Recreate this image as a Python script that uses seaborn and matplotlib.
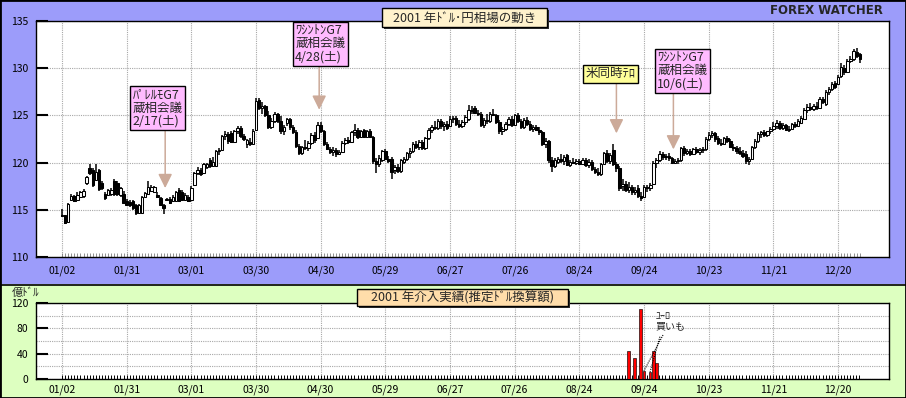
import numpy as np
import pandas as pd
import matplotlib
matplotlib.use("Agg")
import matplotlib.pyplot as plt
import seaborn as sns
from matplotlib.patches import Rectangle
from matplotlib.lines import Line2D

sns.set_style("white")
plt.rcParams["font.family"] = ["Noto Sans CJK JP", "DejaVu Sans"]

# ---------------- data (USD/JPY daily, 2001) ----------------
open_ = [114.5,114.4,113.7,116.0,116.5,116.0,116.4,116.5,117.8,119.4,
         119.2,118.2,119.2,117.8,116.7,116.6,116.7,118.0,117.8,116.6,
         116.7,115.9,115.8,115.9,115.5,114.7,114.7,116.4,116.7,117.0,
         116.9,116.6,116.2,115.5,116.1,116.1,115.9,115.9,117.1,116.9,
         116.0,116.4,116.0,117.6,118.9,119.2,118.9,119.5,120.3,119.6,
         119.6,121.2,121.3,122.8,123.0,123.1,122.2,123.3,123.7,122.8,
         122.0,122.2,122.0,123.5,126.6,125.8,126.0,125.0,123.8,124.4,
         125.2,124.4,123.3,124.2,124.6,123.8,123.2,121.8,121.0,121.6,
         121.5,122.1,122.9,122.6,124.0,123.4,122.0,121.4,121.1,121.3,
         120.9,121.1,122.1,122.4,122.2,123.2,123.5,122.7,123.5,122.7,
         123.4,122.7,120.2,119.9,120.3,121.2,120.4,120.4,119.2,119.5,
         119.1,120.1,120.4,121.0,121.2,122.0,121.6,122.2,121.5,122.6,
         123.5,123.8,123.7,124.4,123.9,124.1,123.9,124.6,124.7,124.1,
         123.9,124.3,124.6,125.6,125.8,125.3,125.2,124.0,124.5,124.4,
         125.2,125.0,124.3,123.3,123.6,124.1,124.6,124.0,125.0,124.4,
         123.8,124.5,124.1,123.6,123.8,123.5,123.2,122.0,122.3,120.3,
         119.6,120.1,120.4,120.2,120.8,119.7,120.1,120.0,120.2,119.9,
         120.3,119.7,120.1,119.3,119.0,118.8,119.9,121.0,120.2,121.3,
         119.8,119.4,117.5,117.7,117.1,117.4,116.9,117.3,116.5,116.4,
         117.4,117.3,117.7,120.0,120.3,120.9,120.6,120.7,120.5,120.0,
         120.2,120.3,121.5,121.0,121.2,120.9,121.4,121.1,121.3,121.4,
         122.5,122.9,123.1,122.6,122.1,122.0,122.6,122.3,121.7,121.5,
         121.2,121.0,120.9,120.2,120.4,121.6,122.3,123.0,123.2,122.9,
         123.3,123.6,123.9,124.2,123.7,124.0,123.5,123.6,124.1,123.9,
         124.2,124.6,125.6,125.9,125.7,126.0,125.8,126.7,126.2,127.5,
         127.8,128.4,128.3,129.2,130.0,129.6,130.8,131.0,131.7,131.5]
high = [115.1,114.5,115.7,116.7,116.6,116.9,117.0,117.2,118.6,119.9,
        119.4,119.8,119.3,118.0,116.9,117.2,117.3,118.3,118.1,117.4,
        117.0,116.1,116.0,116.0,115.6,115.6,116.5,116.9,118.0,117.6,
        117.5,116.9,116.4,115.6,116.3,116.4,116.6,117.0,117.3,117.1,
        116.8,116.6,117.5,119.0,119.5,119.4,120.0,120.0,120.5,120.6,
        121.3,121.5,122.9,123.3,123.2,123.3,123.5,123.9,123.9,123.0,
        122.5,122.6,123.6,126.8,126.8,126.4,126.1,125.5,124.7,125.4,
        125.3,124.9,124.0,124.7,124.7,124.0,123.5,122.0,121.8,122.4,
        122.3,123.1,123.2,124.3,124.3,123.5,122.2,121.6,121.6,121.5,
        121.3,122.3,122.6,122.7,123.4,124.1,123.7,123.5,123.6,123.5,
        123.6,122.8,120.5,120.8,121.3,121.4,120.7,120.6,119.7,119.8,
        120.4,120.6,121.1,121.5,122.2,122.3,122.4,122.4,122.7,123.7,
        124.0,124.4,124.6,124.6,124.3,124.4,124.9,124.9,124.9,124.5,
        124.5,125.0,126.1,126.0,126.0,125.6,125.4,124.7,125.2,125.4,
        125.7,125.2,124.5,123.8,124.3,124.8,124.9,125.2,125.3,124.6,
        124.7,124.8,124.4,124.0,124.0,123.8,123.4,122.6,122.4,120.6,
        120.5,120.6,120.9,120.8,120.9,120.3,120.5,120.4,120.4,120.5,
        120.5,120.4,120.3,119.5,119.4,120.0,121.1,121.3,121.0,122.0,
        120.1,119.6,118.3,118.0,117.9,117.6,117.4,117.6,116.9,117.6,
        117.6,117.8,120.2,120.5,121.2,121.1,120.9,121.0,120.6,120.4,
        120.5,121.6,121.8,121.4,121.4,121.5,121.6,121.5,121.6,122.7,
        123.2,123.4,123.2,122.8,122.5,122.7,122.8,122.5,122.0,121.8,
        121.6,121.3,121.2,120.6,121.8,122.5,123.2,123.4,123.5,123.4,
        123.8,124.3,124.5,124.4,124.2,124.1,123.9,124.2,124.3,124.6,
        124.9,125.8,126.2,126.3,126.2,126.4,126.9,127.0,127.7,128.0,
        128.5,128.6,129.3,130.5,130.3,131.0,131.3,132.0,132.1,131.6]
low = [114.2,113.5,113.6,115.9,115.8,115.9,116.3,116.3,117.6,118.7,
       117.4,118.0,117.0,117.1,116.0,116.5,116.5,116.5,116.5,116.4,
       115.6,115.4,115.3,115.0,114.5,114.6,114.6,116.3,116.6,116.9,
       116.8,116.2,115.4,114.6,115.9,115.6,115.8,115.8,115.8,115.9,
       115.9,115.8,115.9,117.5,118.7,118.6,118.8,119.3,119.4,119.5,
       119.5,120.8,121.2,122.4,122.0,122.1,122.1,123.0,122.6,122.3,
       121.5,121.8,121.9,123.3,125.6,125.2,124.8,123.6,123.6,124.2,
       124.2,123.0,122.9,123.9,123.5,123.0,121.5,120.8,120.8,121.3,
       121.2,121.9,122.1,122.5,123.1,121.8,121.3,120.9,120.7,120.6,
       120.8,121.0,121.9,122.0,122.1,122.8,122.5,122.6,122.6,122.6,
       122.6,119.9,118.9,119.5,120.1,120.3,120.0,118.3,118.8,118.9,
       118.9,119.9,120.2,120.5,121.0,121.4,121.3,121.3,121.3,122.4,
       123.1,123.5,123.5,123.6,123.4,123.5,123.8,124.2,123.9,123.7,
       123.7,124.0,124.4,125.2,125.1,124.9,123.8,123.7,124.1,124.2,
       124.9,124.1,123.0,122.9,123.3,123.9,123.8,123.9,124.2,123.6,
       123.6,123.9,123.4,123.2,123.3,122.9,121.8,121.5,120.0,119.0,
       119.4,119.8,120.0,119.7,119.6,119.5,119.8,119.7,119.8,119.8,
       119.5,119.4,119.1,118.8,118.6,118.6,119.8,120.0,119.9,119.6,
       119.0,117.0,117.0,116.9,116.8,116.6,116.6,116.2,115.9,116.2,
       116.9,117.0,117.6,119.4,120.1,120.3,120.3,120.2,119.8,119.8,
       119.9,120.1,120.7,120.8,120.7,120.8,120.9,120.8,121.0,121.2,
       122.3,122.6,122.2,121.9,121.8,121.9,122.1,121.5,121.2,120.9,
       120.8,120.5,119.9,119.7,120.3,121.4,122.1,122.6,122.7,122.7,
       123.0,123.3,123.6,123.5,123.5,123.3,123.2,123.5,123.7,123.8,
       124.1,124.5,125.3,125.5,125.5,125.6,125.7,126.2,126.0,127.2,
       127.6,127.8,128.2,129.0,129.3,129.5,130.5,130.8,131.1,130.6]
close = [114.3,113.6,115.6,116.5,115.9,116.6,116.9,117.0,118.5,118.9,
         117.6,119.0,117.2,117.3,116.2,117.1,117.1,116.7,116.7,117.3,
         115.7,115.5,115.5,115.2,114.7,115.5,116.4,116.8,117.4,117.4,
         117.4,116.4,115.5,115.2,116.0,115.7,116.4,116.9,115.9,116.0,
         116.6,115.9,117.3,118.9,119.2,118.8,119.9,119.8,119.6,120.1,
         121.2,121.3,122.8,123.0,122.3,122.2,123.3,123.7,122.8,122.5,
         122.4,122.0,123.4,126.5,125.8,126.0,125.0,123.8,124.4,125.2,
         124.4,123.3,123.8,124.6,123.8,123.2,121.8,121.0,121.6,121.5,
         122.1,122.9,122.4,124.0,123.4,122.0,121.4,121.1,121.3,120.9,
         121.1,122.1,122.4,122.2,123.2,123.5,122.7,123.3,122.7,123.4,
         122.7,120.2,119.9,120.5,121.2,120.4,120.2,119.0,119.5,119.1,
         120.3,120.4,121.0,121.2,122.0,121.6,122.2,121.5,122.6,123.5,
         123.8,123.7,124.4,123.9,124.1,123.7,124.6,124.7,124.1,123.9,
         124.3,124.8,125.6,125.5,125.3,125.2,124.0,124.5,124.4,125.2,
         125.0,124.3,123.3,123.6,124.1,124.6,124.0,125.0,124.4,123.8,
         124.5,124.1,123.6,123.8,123.5,123.2,122.0,122.3,120.3,119.6,
         120.3,120.4,120.2,120.6,119.7,120.1,120.0,120.2,119.9,120.3,
         119.7,120.1,119.3,119.0,118.8,119.9,121.0,120.2,120.8,119.8,
         119.4,117.3,117.7,117.1,117.4,116.9,117.1,116.5,116.2,117.4,
         117.3,117.6,120.0,120.3,120.9,120.6,120.7,120.5,120.0,120.2,
         120.3,121.5,121.0,121.2,120.9,121.4,121.1,121.3,121.4,122.5,
         122.9,123.1,122.5,122.1,122.0,122.6,122.3,121.7,121.5,121.2,
         121.0,120.7,120.2,120.4,121.6,122.3,123.0,123.2,122.9,123.3,
         123.6,123.9,124.2,123.7,124.0,123.5,123.6,124.1,123.9,124.4,
         124.7,125.6,125.9,125.7,126.0,125.8,126.7,126.4,127.5,127.8,
         128.3,128.0,129.1,130.1,129.6,130.8,131.0,131.8,131.3,131.0]
tick_labels = ["01/02", "01/31", "03/01", "03/30", "04/30", "05/29", "06/27",
               "07/26", "08/24", "09/24", "10/23", "11/21", "12/20"]
interv_dates = ["2001-09-17", "2001-09-19", "2001-09-21", "2001-09-24",
                "2001-09-26", "2001-09-27", "2001-09-28"]
interv_amount = [44, 33, 111, 12, 10, 44, 25]   # 億ドル

dates = pd.bdate_range("2001-01-02", "2001-12-31")
N = len(close)
dates = dates[:N]
xpos = np.arange(N)

def date_pos(d):
    d = pd.Timestamp(d)
    k = int(dates.searchsorted(d))
    return float(k) if (k < N and dates[k] == d) else k - 0.5

# ---------------- figure layout ----------------
W, H = 906, 398
fig = plt.figure(figsize=(W / 100, H / 100), dpi=100)
fig.patch.set_facecolor("#9999FF")
fx = lambda px: px / W
fy = lambda py: 1 - py / H

fig.patches.append(Rectangle((0, fy(284)), 1, 284 / H, transform=fig.transFigure,
                             fc="#9C9CFA", ec="none", zorder=-10))
fig.patches.append(Rectangle((0, 0), 1, fy(284), transform=fig.transFigure,
                             fc="#DDFFC0", ec="none", zorder=-10))

ax = fig.add_axes([fx(36), fy(257), fx(889) - fx(36), fy(21) - fy(257)])
ax2 = fig.add_axes([fx(36), fy(378.7), fx(888.7) - fx(36), fy(303.3) - fy(378.7)])

grid_kw = dict(color="#A8A8A8", linestyle=(0, (1, 1)), linewidth=0.8)
tick_pos = np.arange(0, N, 21)[:len(tick_labels)]

for a in (ax, ax2):
    a.set_facecolor("white")
    a.set_xlim(-8.44, 268.5)
    for s in a.spines.values():
        s.set_color("black")
        s.set_linewidth(1.0)
    a.set_axisbelow(True)

# ---------------- candlesticks ----------------
o = np.array(open_); c = np.array(close)
up = c >= o
ax.vlines(xpos, low, high, color="black", linewidth=1.1, zorder=2)
body_bottom = np.minimum(o, c)
body_h = np.maximum(np.abs(c - o), 0.08)
ax.bar(xpos, body_h, bottom=body_bottom, width=0.8,
       color=np.where(up, "white", "black"), edgecolor="black",
       linewidth=0.75, zorder=3)

ax.set_ylim(110, 135)
ax.set_yticks([110, 115, 120, 125, 130, 135])
ax.set_yticklabels(["110", "115", "120", "125", "130", "135"], fontsize=7.5)
ax.set_xticks(tick_pos)
ax.set_xticklabels(tick_labels, fontsize=7.5)
ax.set_xticks(xpos, minor=True)
ax.tick_params(axis="y", direction="in", length=8.6, width=1.5, pad=5.5,
               left=True, colors="black")
ax.tick_params(axis="x", which="both", direction="in", length=3, width=0.6,
               color="#808080", labelcolor="black", pad=6, bottom=True)
ax.grid(True, axis="both", which="major", **grid_kw)

# annotations
arrow_col = "#CCAA99"
notes = [
    ("ﾊﾟﾚﾙﾓG7\n蔵相会議\n2/17(土)", "2001-02-17", "#FFBBFF", (22.9, 127.85), 123.6, 117.3),
    ("ﾜｼﾝﾄﾝG7\n蔵相会議\n4/28(土)", "2001-04-28", "#FFBBFF", (75.7, 134.65), 130.3, 125.6),
    ("米同時ﾃﾛ", "2001-09-11", "#FFFF99", (169.9, 130.1), 128.5, 123.1),
    ("ﾜｼﾝﾄﾝG7\n蔵相会議\n10/6(土)", "2001-10-06", "#FFBBFF", (193.3, 131.8), 127.5, 121.4),
]
for text, d, fc, (tx, ty), base, tip in notes:
    xp = date_pos(d)
    ax.annotate("", xy=(xp, tip), xytext=(xp, base),
                arrowprops=dict(arrowstyle="-|>,head_length=0.85,head_width=0.42",
                                color=arrow_col, lw=1.1, shrinkA=0, shrinkB=0,
                                mutation_scale=10), zorder=4)
    ax.text(tx, ty, text, ha="left", va="top", fontsize=9, linespacing=1.0,
            bbox=dict(boxstyle="square,pad=0.2", fc=fc, ec="black", lw=1.0),
            zorder=5)

# ---------------- intervention bars ----------------
idf = pd.DataFrame({"pos": [date_pos(d) for d in interv_dates],
                    "amount": interv_amount})
sns.barplot(data=idf, x="pos", y="amount", native_scale=True, color="#FF0000",
            saturation=1, edgecolor="black", linewidth=0.45, width=0.9,
            errorbar=None, ax=ax2, zorder=3)
ax2.set_xlabel(""); ax2.set_ylabel("")
ax2.set_xlim(-8.44, 268.5)
ax2.set_ylim(0, 120)
ax2.set_yticks([0, 40, 80, 120])
ax2.set_yticklabels(["0", "40", "80", "120"], fontsize=7.5)
ax2.set_yticks([20, 60, 100], minor=True)
ax2.set_xticks(tick_pos)
ax2.set_xticklabels(tick_labels, fontsize=7.5)
ax2.set_xticks(xpos, minor=True)
ax2.tick_params(axis="y", which="major", direction="in", length=8.6, width=1.5,
                pad=5.5, left=True, colors="black")
ax2.tick_params(axis="y", which="minor", length=0)
ax2.tick_params(axis="x", which="both", direction="in", length=3.2, width=0.7,
                color="black", labelcolor="black", pad=4.5, bottom=True)
ax2.grid(True, axis="y", which="both", **grid_kw)
ax2.grid(True, axis="x", which="major", **grid_kw)

ax2.text(192.9, 107.5, "ﾕｰﾛ\n買いも", ha="left", va="top", fontsize=7.2,
         linespacing=1.0, zorder=5)
ax2.plot([195.2, 189.0], [69.5, 12.5], color="black", lw=0.8,
         linestyle=(0, (1, 1)), zorder=5)
ax2.plot([194.2, 191.0], [66.8, 11.0], color="black", lw=0.8,
         linestyle=(0, (1, 1)), zorder=5)

# ---------------- titles / frame ----------------
def title_box(x0, y0, x1, y1, fc, text, fs):
    fig.patches.append(Rectangle((fx(x0 + 2), fy(y1 + 2)), (x1 - x0) / W, (y1 - y0) / H,
                                 transform=fig.transFigure, fc="#303030", ec="none",
                                 zorder=5))
    fig.patches.append(Rectangle((fx(x0), fy(y1)), (x1 - x0) / W, (y1 - y0) / H,
                                 transform=fig.transFigure, fc=fc, ec="black",
                                 lw=1.0, zorder=6))
    fig.text(fx((x0 + x1) / 2), fy((y0 + y1) / 2 + 0.5), text, ha="center",
             va="center", fontsize=fs, zorder=7)

title_box(382, 8, 547, 27, "#FFF2CC", "2001 年ﾄﾞﾙ･円相場の動き", 9.0)
title_box(357, 289, 568, 306, "#FFDDAA", "2001 年介入実績(推定ﾄﾞﾙ換算額)", 9.0)

fig.text(fx(883), fy(11), "FOREX WATCHER", ha="right", va="center",
         fontsize=8.5, fontweight="bold", family="DejaVu Sans", zorder=7)
fig.text(fx(12), fy(293), "億ﾄﾞﾙ", ha="left", va="center", fontsize=8, zorder=7)

fig.lines.append(Line2D([0, 1], [fy(284.5), fy(284.5)], transform=fig.transFigure,
                        color="black", lw=1.2, zorder=8))
fig.patches.append(Rectangle((0, 0), 1, 1, transform=fig.transFigure, fill=False,
                             ec="black", lw=2.0, zorder=20))

fig.savefig("out.png", dpi=100)
